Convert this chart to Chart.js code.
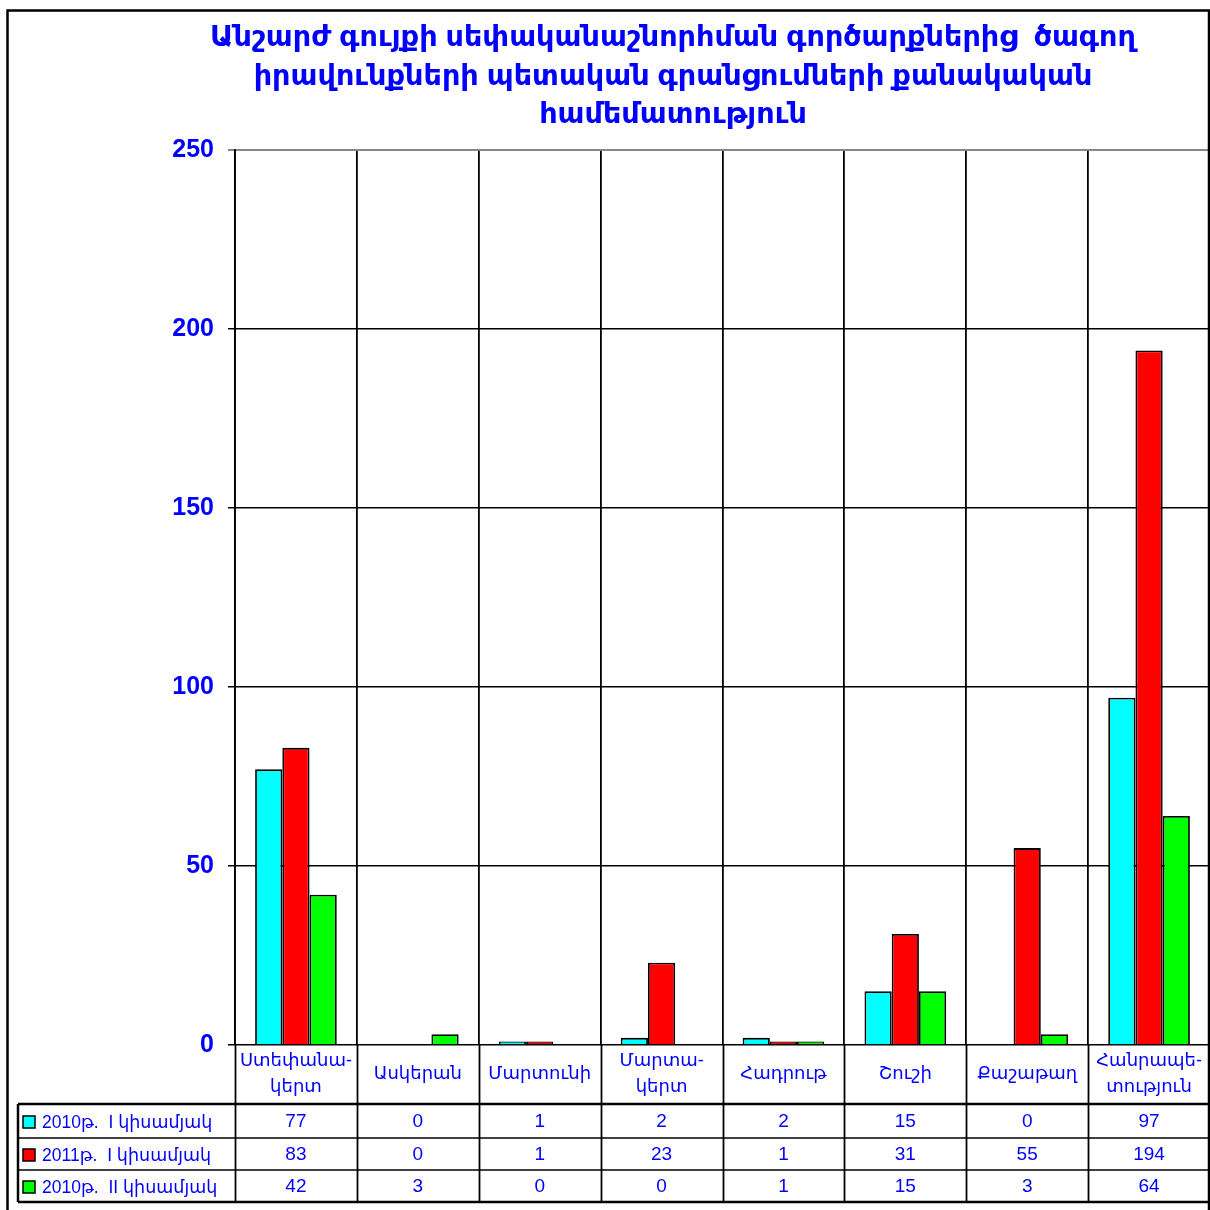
<!DOCTYPE html>
<html><head><meta charset="utf-8">
<script src="https://cdn.jsdelivr.net/npm/chart.js@4/dist/chart.umd.min.js"></script>
<style>html,body{margin:0;padding:0;background:#fff}#wrap{width:1210px;height:1210px;position:relative}</style>
</head><body><div id="wrap"><canvas id="c" width="1210" height="1210"></canvas></div>
<script>
const titleLines = ['Անշարժ գույքի սեփականաշնորհման գործարքներից  ծագող', 'իրավունքների պետական գրանցումների քանակական', 'համեմատություն'];
const categories = [['Ստեփանա-','կերտ'], ['Ասկերան'], ['Մարտունի'], ['Մարտա-','կերտ'], ['Հադրութ'], ['Շուշի'], ['Քաշաթաղ'], ['Հանրապե-','տություն']];
const seriesNames = ['2010թ.  I կիսամյակ', '2011թ.  I կիսամյակ', '2010թ.  II կիսամյակ'];
const seriesColors = ['#00FFFF', '#FF0000', '#00FF00'];
const s2010H1 = [77, 0, 1, 2, 2, 15, 0, 97];
const s2011H1 = [83, 0, 1, 23, 1, 31, 55, 194];
const s2010H2 = [42, 3, 0, 0, 1, 15, 3, 64];
const yTicks = [0, 50, 100, 150, 200, 250];

const FONT = '"Liberation Sans", "DejaVu Sans", Arial, sans-serif';
const BLUE = '#0000FF';

const tablePlugin = {
  id: 'tablePlugin',
  afterDraw(chart) {
    const ctx = chart.ctx;
    const xs = chart.scales.x;
    const area = chart.chartArea;
    const n = chart.data.labels.length;
    const w = (xs.getPixelForValue(1) - xs.getPixelForValue(0));
    const bounds = [];
    for (let i = 0; i <= n; i++) bounds.push(xs.getPixelForValue(0) - w / 2 + i * w);
    const yZero = area.bottom;
    const rowTop = 1104, rows = [1104, 1138, 1170, 1202];
    const tLeft = 18, right = 1210;
    ctx.save();
    ctx.strokeStyle = '#000';
    ctx.lineWidth = 1.8;
    bounds.forEach(b => { ctx.beginPath(); ctx.moveTo(Math.round(b) + 0.5, yZero); ctx.lineTo(Math.round(b) + 0.5, rows[3]); ctx.stroke(); });
    rows.forEach((y, i) => {
      ctx.lineWidth = (i === 0 || i === 3) ? 2.5 : 1.5;
      ctx.beginPath(); ctx.moveTo(tLeft, y); ctx.lineTo(right, y); ctx.stroke();
    });
    ctx.lineWidth = 2.5;
    ctx.beginPath(); ctx.moveTo(tLeft, rows[0]); ctx.lineTo(tLeft, rows[3]); ctx.stroke();
    ctx.lineWidth = 2.5;
    ctx.beginPath(); ctx.moveTo(7.5, 1210); ctx.lineTo(7.5, 10.5); ctx.lineTo(1209, 10.5); ctx.lineTo(1209, 1210); ctx.stroke();

    ctx.fillStyle = BLUE;
    ctx.textAlign = 'center';
    ctx.textBaseline = 'middle';
    ctx.font = '18px ' + FONT;
    chart.data.labels.forEach((lab, i) => {
      const cx = xs.getPixelForValue(i);
      const lines = Array.isArray(lab) ? lab : [lab];
      const mid = (yZero + rowTop) / 2;
      const lh = 26;
      lines.forEach((t, k) => ctx.fillText(t, cx, mid + (k - (lines.length - 1) / 2) * lh));
    });
    chart.data.datasets.forEach((ds, r) => {
      const cy = (rows[r] + rows[r + 1]) / 2 + 1;
      ctx.fillStyle = BLUE;
      ctx.textAlign = 'center';
      ctx.font = '19px ' + FONT;
      ds.data.forEach((v, i) => ctx.fillText(String(v), xs.getPixelForValue(i), cy));
      ctx.fillStyle = ds.backgroundColor;
      ctx.fillRect(23, cy - 6, 12, 12);
      ctx.lineWidth = 1.5; ctx.strokeStyle = '#000';
      ctx.strokeRect(23, cy - 6, 12, 12);
      ctx.fillStyle = BLUE;
      ctx.textAlign = 'left';
      ctx.font = '17.5px ' + FONT;
      ctx.fillText(ds.label, 42, cy + 1);
    });

    ctx.fillStyle = BLUE;
    ctx.textAlign = 'center';
    ctx.textBaseline = 'middle';
    let fs = 28;
    ctx.font = 'bold ' + fs + 'px ' + FONT;
    const wMeas = ctx.measureText(titleLines[0]).width;
    fs = fs * 925 / wMeas;
    ctx.font = 'bold ' + fs.toFixed(1) + 'px ' + FONT;
    [38, 77, 115].forEach((y, k) => ctx.fillText(titleLines[k], 673, y));
    ctx.restore();
  }
};

new Chart(document.getElementById('c'), {
  type: 'bar',
  data: {
    labels: categories,
    datasets: [s2010H1, s2011H1, s2010H2].map((d, i) => ({
      label: seriesNames[i], data: d, backgroundColor: seriesColors[i],
      borderColor: '#000', borderWidth: 1.8, categoryPercentage: 0.67, barPercentage: 1
    }))
  },
  options: {
    responsive: false, animation: false, devicePixelRatio: 1,
    layout: { padding: { top: 150, left: 0, right: 0, bottom: 0 } },
    plugins: { legend: { display: false }, title: { display: false }, tooltip: { enabled: false } },
    scales: {
      x: {
        grid: { offset: true, color: '#000', lineWidth: 1.8, drawTicks: false },
        border: { display: false },
        ticks: { display: false },
        afterFit(s) { s.height = 165; }
      },
      y: {
        min: 0, max: 250,
        afterBuildTicks(s) { s.ticks = yTicks.map(v => ({ value: v })); },
        ticks: { color: BLUE, font: { family: FONT, size: 25, weight: 'bold' }, padding: 14 },
        grid: { color: c => (c.tick && c.tick.value === 250) ? '#888' : '#000', lineWidth: c => (c.tick && c.tick.value === 250) ? 2 : 1.5, tickLength: 7 },
        border: { color: '#000', width: 1.8 },
        afterFit(s) { s.width = 235; }
      }
    }
  },
  plugins: [tablePlugin]
});
</script>
</body></html>
